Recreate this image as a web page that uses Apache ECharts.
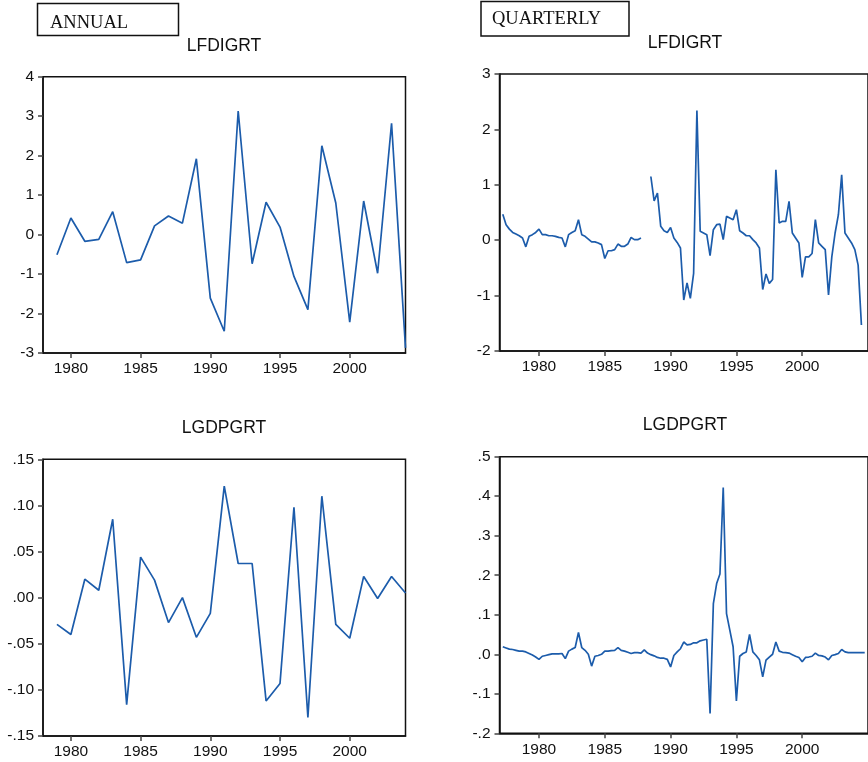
<!DOCTYPE html>
<html>
<head>
<meta charset="utf-8">
<script src="https://cdn.jsdelivr.net/npm/echarts@6/dist/echarts.min.js"></script>
<style>
  html, body { margin: 0; padding: 0; background: #fff; }
  #main { width: 868px; height: 762px; }
</style>
</head>
<body>
<div id="main"></div>
<script>
// annual series, 1979-2004
const annualYears = [1979, 1980, 1981, 1982, 1983, 1984, 1985, 1986, 1987, 1988, 1989, 1990, 1991,
  1992, 1993, 1994, 1995, 1996, 1997, 1998, 1999, 2000, 2001, 2002, 2003, 2004];
const annualFdi = [-0.51, 0.42, -0.17, -0.12, 0.58, -0.71, -0.64, 0.22, 0.47, 0.29, 1.92, -1.61, -2.45,
  3.13, -0.74, 0.82, 0.19, -1.06, -1.90, 2.25, 0.80, -2.22, 0.85, -0.98, 2.82, -2.87];
const annualGdp = [-0.029, -0.040, 0.020, 0.008, 0.085, -0.116, 0.044, 0.019, -0.027, 0.000, -0.043, -0.017, 0.121,
  0.037, 0.037, -0.112, -0.093, 0.098, -0.130, 0.110, -0.029, -0.044, 0.023, -0.001, 0.023, 0.005];

// quarterly series, first obs plotted at 1977.25, one step per quarter
const quarterStart = 1977.25;
const quarterStep = 0.25;
const quarterlyFdi = [
  0.47, 0.28, 0.20, 0.14, 0.11, 0.08, 0.04, -0.12, 0.07, 0.10,
  0.14, 0.20, 0.10, 0.10, 0.08, 0.08, 0.07, 0.05, 0.04, -0.12,
  0.10, 0.14, 0.17, 0.37, 0.10, 0.07, 0.02, -0.03, -0.03, -0.05,
  -0.08, -0.33, -0.19, -0.19, -0.17, -0.07, -0.11, -0.11, -0.07, 0.05,
  0.01, 0.01, 0.04, '-', '-', 1.15, 0.71, 0.85, 0.25, 0.17,
  0.14, 0.23, 0.04, -0.04, -0.14, -1.08, -0.77, -1.05, -0.60, 2.34,
  0.16, 0.13, 0.10, -0.28, 0.19, 0.28, 0.29, 0.01, 0.43, 0.40,
  0.37, 0.55, 0.17, 0.13, 0.08, 0.08, 0.01, -0.05, -0.14, -0.89,
  -0.61, -0.78, -0.71, 1.27, 0.31, 0.34, 0.34, 0.70, 0.13, 0.04,
  -0.05, -0.67, -0.30, -0.30, -0.24, 0.37, -0.05, -0.11, -0.17, -0.99,
  -0.30, 0.13, 0.46, 1.18, 0.13, 0.04, -0.05, -0.17, -0.45, -1.53
];
const quarterlyGdp = [
  0.019, 0.016, 0.013, 0.012, 0.010, 0.008, 0.008, 0.006, 0.002, -0.002,
  -0.007, -0.013, -0.005, -0.003, -0.001, 0.001, 0.001, 0.001, 0.002, -0.011,
  0.008, 0.013, 0.017, 0.055, 0.017, 0.010, 0.000, -0.030, -0.005, -0.003,
  0.000, 0.008, 0.008, 0.009, 0.010, 0.017, 0.010, 0.008, 0.005, 0.002,
  0.004, 0.004, 0.003, 0.011, 0.003, -0.001, -0.004, -0.008, -0.010, -0.010,
  -0.013, -0.032, -0.003, 0.006, 0.014, 0.031, 0.024, 0.025, 0.029, 0.029,
  0.034, 0.036, 0.038, -0.150, 0.128, 0.179, 0.203, 0.422, 0.103, 0.061,
  0.019, -0.118, -0.005, 0.002, 0.006, 0.050, 0.006, -0.003, -0.014, -0.057,
  -0.015, -0.007, 0.000, 0.031, 0.008, 0.005, 0.004, 0.003, -0.001, -0.005,
  -0.008, -0.019, -0.008, -0.007, -0.005, 0.003, -0.003, -0.004, -0.007, -0.014,
  -0.003, -0.001, 0.002, 0.012, 0.006, 0.004, 0.004, 0.004, 0.004, 0.004, 0.004
];

const yearTicks = [1980, 1985, 1990, 1995, 2000];
const panelTitles = ['LFDIGRT', 'LFDIGRT', 'LGDPGRT', 'LGDPGRT'];

const lineColor = '#1c5cab';
const ink = '#111';
const sans = "'Liberation Sans', Arial, sans-serif";
const serif = "'Liberation Serif', 'Times New Roman', serif";

function pairs(xs, ys) {
  return ys.map((v, i) => [xs[i], v]);
}
function quarterPairs(ys) {
  return ys.map((v, i) => [quarterStart + i * quarterStep, v]);
}
function dotFmt(digits) {
  return v => {
    let s = Number(v).toFixed(digits);
    if (s === '-0.' + '0'.repeat(digits)) s = '0.' + '0'.repeat(digits);
    return s.replace('0.', '.');
  };
}

function xAxisFor(grid, min, max) {
  return {
    type: 'value', gridIndex: grid, min: min, max: max,
    splitLine: { show: false },
    axisLine: { show: true, onZero: false, lineStyle: { color: ink, width: 1.5 } },
    axisTick: { show: true, length: 5, customValues: yearTicks, lineStyle: { color: '#444', width: 1.5 } },
    axisLabel: { customValues: yearTicks, margin: 8, color: ink, fontSize: 15.5, fontFamily: sans,
      formatter: v => String(v) }
  };
}
function yAxisFor(grid, min, max, step, fmt) {
  return {
    type: 'value', gridIndex: grid, min: min, max: max, interval: step,
    splitLine: { show: false },
    axisLine: { show: true, onZero: false, lineStyle: { color: ink, width: 1.5 } },
    axisTick: { show: true, length: 5, lineStyle: { color: '#444', width: 1.5 } },
    axisLabel: { margin: 9, color: ink, fontSize: 15.5, fontFamily: sans, formatter: fmt }
  };
}
function lineSeries(idx, data) {
  return {
    type: 'line', xAxisIndex: idx, yAxisIndex: idx, data: data,
    showSymbol: false, connectNulls: false,
    lineStyle: { color: lineColor, width: 1.7 }, itemStyle: { color: lineColor },
    animation: false
  };
}

const gridBox = { show: true, borderColor: ink, borderWidth: 1.5 };

const titlePos = [[224, 46], [685, 43.5], [224, 428], [685, 425.5]];

const option = {
  backgroundColor: '#fff',
  animation: false,
  grid: [
    Object.assign({ left: 43, top: 76.7, width: 362.5, height: 276.3 }, gridBox),
    Object.assign({ left: 499.5, top: 74, width: 373.3, height: 277 }, gridBox),
    Object.assign({ left: 43, top: 459.3, width: 362.5, height: 276.7 }, gridBox),
    Object.assign({ left: 499.5, top: 456.7, width: 373.3, height: 276.6 }, gridBox)
  ],
  xAxis: [
    xAxisFor(0, 1978, 2004),
    xAxisFor(1, 1977, 2005),
    xAxisFor(2, 1978, 2004),
    xAxisFor(3, 1977, 2005)
  ],
  yAxis: [
    yAxisFor(0, -3, 4, 1, v => String(v)),
    yAxisFor(1, -2, 3, 1, v => String(v)),
    yAxisFor(2, -0.15, 0.15, 0.05, dotFmt(2)),
    yAxisFor(3, -0.2, 0.5, 0.1, dotFmt(1))
  ],
  series: [
    lineSeries(0, pairs(annualYears, annualFdi)),
    lineSeries(1, quarterPairs(quarterlyFdi)),
    lineSeries(2, pairs(annualYears, annualGdp)),
    lineSeries(3, quarterPairs(quarterlyGdp))
  ],
  graphic: [
    { type: 'rect', shape: { x: 37.5, y: 3.5, width: 141, height: 32 },
      style: { fill: '#fff', stroke: ink, lineWidth: 1.5 } },
    { type: 'text', x: 50, y: 23,
      style: { text: 'ANNUAL', font: '18.5px ' + serif, fill: ink, verticalAlign: 'middle' } },
    { type: 'rect', shape: { x: 481, y: 1.5, width: 148, height: 34.5 },
      style: { fill: '#fff', stroke: ink, lineWidth: 1.5 } },
    { type: 'text', x: 492, y: 19.5,
      style: { text: 'QUARTERLY', font: '18.5px ' + serif, fill: ink, verticalAlign: 'middle' } }
  ].concat(panelTitles.map((t, i) => ({
    type: 'text', x: titlePos[i][0], y: titlePos[i][1],
    style: { text: t, font: '17.5px ' + sans, fill: ink, align: 'center', verticalAlign: 'middle' }
  })))
};

const chart = echarts.init(document.getElementById('main'), null, { renderer: 'canvas' });
chart.setOption(option);
</script>
</body>
</html>
